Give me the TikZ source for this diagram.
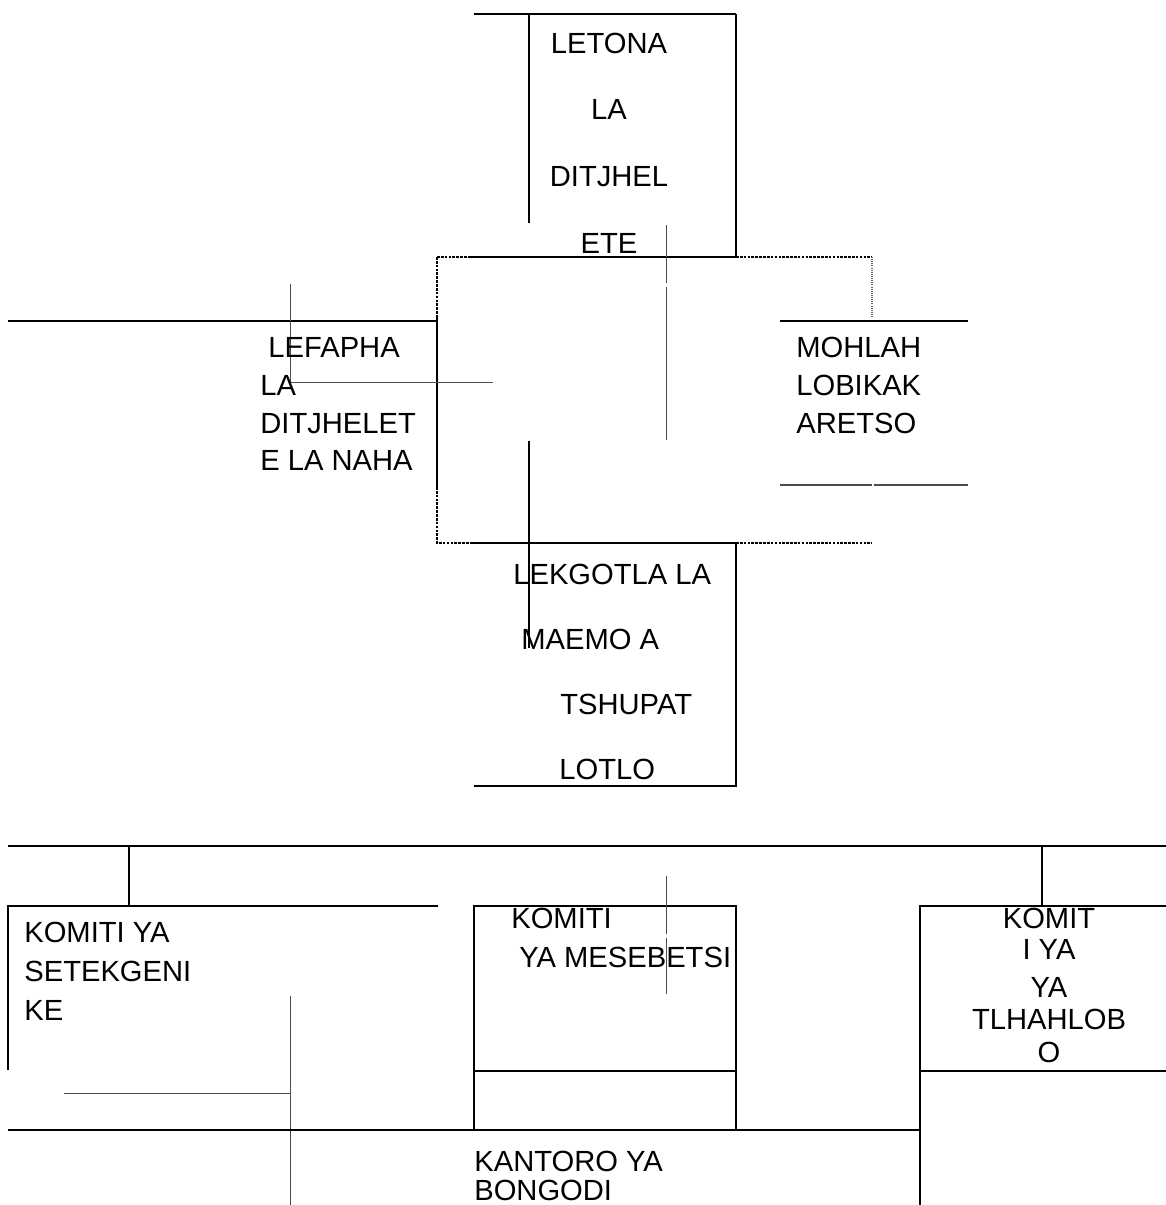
\documentclass[tikz,border=0pt]{standalone}
\usepackage{fontspec}
\setmainfont{Liberation Sans}
\usepackage{tikz}
\usetikzlibrary{positioning}

\begin{document}
\begin{tikzpicture}[
    x=0.02cm, y=-0.02cm,
  rule/.style={line width=1.15pt},
  hair/.style={line width=0.55pt, black!70},
  dotrule/.style={line width=1.15pt, dash pattern=on 1.5pt off 0.7pt},
  dothair/.style={line width=0.6pt, black!60, dash pattern=on 0.6pt off 0.6pt},
  lab/.style={font=\fontsize{16.6}{19}\selectfont, inner sep=0pt}
]
\useasboundingbox (0,0) rectangle (1166,1205);

% ===== LETONA =====
\draw[rule] (474,14) -- (736,14);
\draw[rule] (529,14) -- (529,223);
\draw[rule] (736,14) -- (736,257);
\draw[rule] (470,257) -- (736,257);
\node[lab, align=center, font=\fontsize{16.6}{37.9}\selectfont] (letona) at (609,143)
  {LETONA\\LA\\DITJHEL\\ETE};

% ===== DOTTED FRAME =====
\draw[dotrule] (437,257) -- (470,257);
\draw[dotrule] (736,257) -- (872,257);
\draw[dotrule] (437,257) -- (437,318);
\draw[rule] (437,318) -- (437,487);
\draw[dotrule] (437,487) -- (437,543) -- (473,543);
\draw[rule] (473,543) -- (736,543);
\draw[dotrule] (736,543) -- (872,543);
\draw[dothair] (872,257) -- (872,318);
\draw[hair] (666,225) -- (666,283);
\draw[hair] (666,287) -- (666,440);

% ===== LEFAPHA =====
\draw[rule] (8,321) -- (437,321);
\draw[hair] (290,284) -- (290,382) -- (493,382);
\node[lab, anchor=west, align=left, font=\fontsize{16.6}{21.6}\selectfont] (lefapha) at (260,404)
  {\ LEFAPHA\\LA\\DITJHELET\\E LA NAHA};

% ===== MOHLAHLOBI =====
\draw[rule] (780,321) -- (968,321);
\draw[hair, line width=0.8pt] (780,485) -- (872,485);
\draw[hair, line width=0.8pt] (874,485) -- (968,485);
\node[lab, anchor=west, align=left, font=\fontsize{16.6}{21.6}\selectfont] (mohlah) at (796,385)
  {MOHLAH\\LOBIKAK\\ARETSO};

% ===== LEKGOTLA =====
\draw[rule] (529,441) -- (529,648);
\draw[rule] (736,543) -- (736,786) -- (474,786);
\node[lab, anchor=west, align=left, font=\fontsize{16.6}{37}\selectfont] (lekgotla) at (513,672)
  {LEKGOTLA LA\\\hspace*{0.16cm}MAEMO A\\\hspace*{0.94cm}TSHUPAT\\\hspace*{0.92cm}LOTLO};

% ===== KOMITI ROW =====
\draw[rule] (8,846) -- (1166,846);
\draw[rule] (129,846) -- (129,906);
\draw[rule] (1042,846) -- (1042,906);

\draw[rule] (8,1070) -- (8,906) -- (438,906);
\draw[hair] (64,1093) -- (290,1093);
\draw[hair] (290,996) -- (290,1205);
\node[lab, anchor=west, align=left, font=\fontsize{16.6}{22.2}\selectfont] (setek) at (24,971)
  {KOMITI YA\\SETEKGENI\\KE};

\draw[rule] (474,1130) -- (474,906) -- (736,906) -- (736,1130);
\draw[rule] (474,1071) -- (736,1071);
\draw[hair] (666,876) -- (666,934);
\draw[hair] (666,938) -- (666,994);
\node[lab, anchor=west, align=left, font=\fontsize{16.6}{22.2}\selectfont] (mesebetsi) at (511,938)
  {KOMITI\\\hspace*{0.16cm}YA MESEBETSI};

\draw[rule] (920,1205) -- (920,906) -- (1166,906);
\draw[rule] (920,1071) -- (1166,1071);
\node[lab, align=center, font=\fontsize{16.6}{17.6}\selectfont] (komit) at (1049,934)
  {KOMIT\\I YA};
\node[lab, align=center, font=\fontsize{16.6}{18.5}\selectfont] (tlhahlobo) at (1049,1020)
  {YA\\TLHAHLOB\\O};

% ===== KANTORO =====
\draw[rule] (8,1130) -- (920,1130);
\node[lab, anchor=west, align=left, font=\fontsize{16.6}{17}\selectfont] (kantoro) at (474,1176)
  {KANTORO YA\\BONGODI};

\end{tikzpicture}
\end{document}
